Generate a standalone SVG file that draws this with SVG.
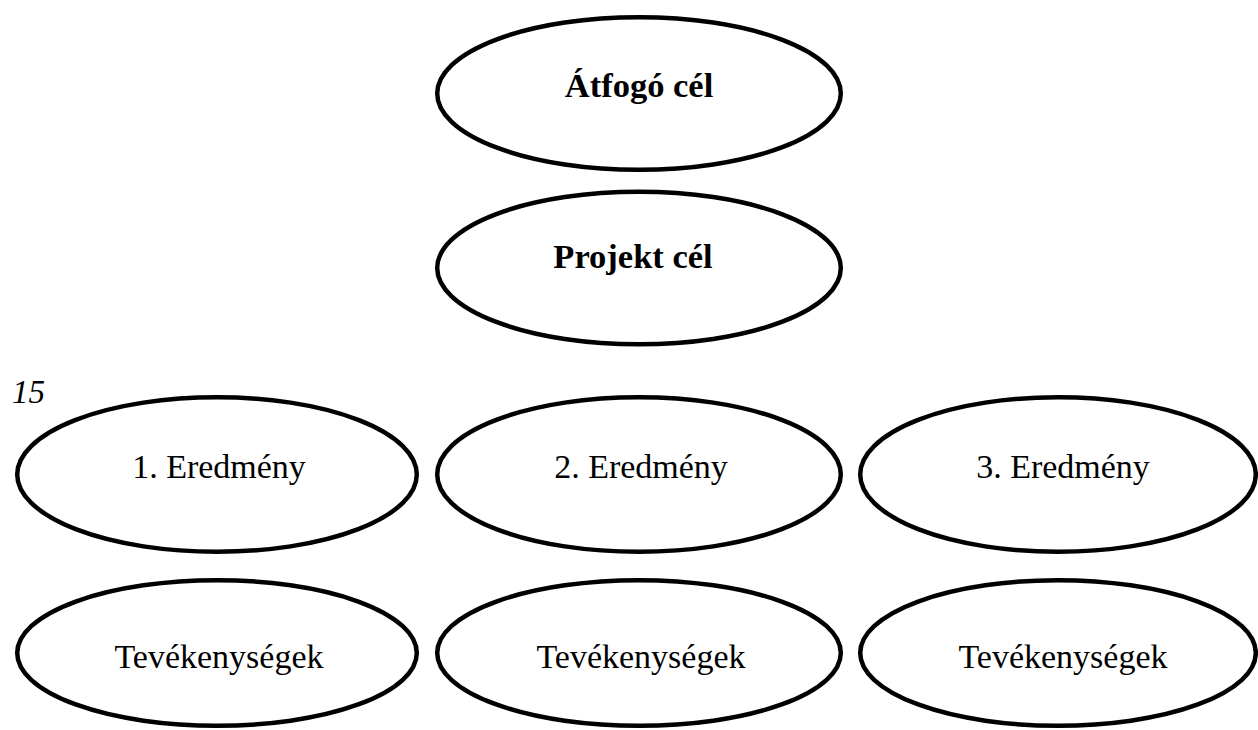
<svg xmlns="http://www.w3.org/2000/svg" width="1258" height="730" viewBox="0 0 1258 730">
  <style>
    .shape { fill: #ffffff; stroke: #000000; stroke-width: 4.5; }
    .label { font-family: "Liberation Serif", "Times New Roman", serif; fill: #000000; text-anchor: middle; }
    .goal { font-size: 34.5px; font-weight: bold; }
    .item { font-size: 34px; }
    .note { font-family: "Liberation Serif", "Times New Roman", serif; font-size: 33px; font-style: italic; fill: #000000; }
  </style>
  <rect x="0" y="0" width="1258" height="730" fill="#ffffff"/>

  <!-- no connectors are drawn between the levels -->
  <g id="connectors"></g>

  <g id="overall-goal">
    <ellipse class="shape" cx="639" cy="93.5" rx="201.8" ry="76.3"/>
    <text class="label goal" x="639" y="97">Átfogó cél</text>
  </g>

  <g id="project-goal">
    <ellipse class="shape" cx="639" cy="268" rx="201.8" ry="76.3"/>
    <text class="label goal" x="633" y="268">Projekt cél</text>
  </g>

  <text class="note" x="12" y="403">15</text>

  <g id="result-1">
    <ellipse class="shape" cx="217" cy="474.5" rx="199.8" ry="77.3"/>
    <text class="label item" x="219" y="478">1. Eredmény</text>
  </g>
  <g id="result-2">
    <ellipse class="shape" cx="639" cy="474.5" rx="201.8" ry="77.3"/>
    <text class="label item" x="641" y="478">2. Eredmény</text>
  </g>
  <g id="result-3">
    <ellipse class="shape" cx="1058" cy="474.5" rx="197.8" ry="77.3"/>
    <text class="label item" x="1063" y="478">3. Eredmény</text>
  </g>

  <g id="activities-1">
    <ellipse class="shape" cx="217" cy="653" rx="199.8" ry="72.8"/>
    <text class="label item" x="219" y="668">Tevékenységek</text>
  </g>
  <g id="activities-2">
    <ellipse class="shape" cx="639" cy="653" rx="201.8" ry="72.8"/>
    <text class="label item" x="641" y="668">Tevékenységek</text>
  </g>
  <g id="activities-3">
    <ellipse class="shape" cx="1058" cy="653" rx="197.8" ry="72.8"/>
    <text class="label item" x="1063" y="668">Tevékenységek</text>
  </g>
</svg>
